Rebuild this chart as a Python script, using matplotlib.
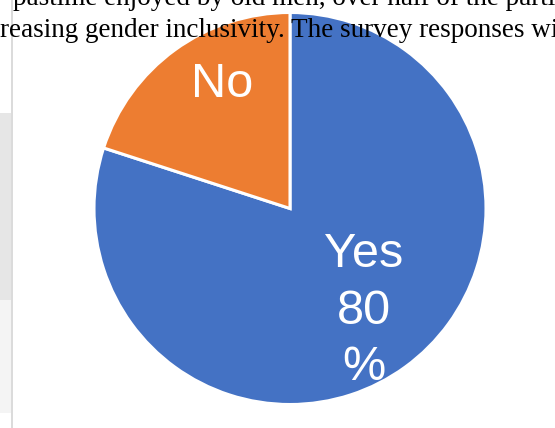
import matplotlib
matplotlib.use("Agg")
import matplotlib.pyplot as plt
from matplotlib.patches import Rectangle

# 调查结果数据
labels = ['Yes', 'No']
values = [80, 20]
colors = ['#4472C4', '#ED7D31']

# 截图中的正文残留
body_lines = ['pastime enjoyed by old men, over half of the parti',
              'reasing gender inclusivity. The survey responses wi']

W, H = 555, 428
fig = plt.figure(figsize=(W / 100, H / 100), dpi=100)
ax = fig.add_axes([0, 0, 1, 1])

# 左侧页边的灰色竖线和水印
ax.add_patch(Rectangle((0, H - 300), 11, 187, color='#e6e6e6', lw=0, zorder=0))
ax.add_patch(Rectangle((0, H - 413), 11, 113, color='#f4f4f4', lw=0, zorder=0))
ax.plot([11.5, 11.5], [0, H], color='#d4d4d4', lw=1.2, zorder=1)

ax.pie(values, colors=colors, startangle=90, counterclock=False,
       center=(290, H - 208.5), radius=196,
       wedgeprops={'edgecolor': 'white', 'linewidth': 2.2}, frame=True)
ax.set_xlim(0, W)
ax.set_ylim(0, H)
ax.set_aspect('equal')
ax.axis('off')

# 数据标签
ax.text(222, H - 84, labels[1], ha='center', va='center', color='white',
        fontsize=35, family='Liberation Sans', zorder=5)
ax.text(364, H - 311, f'{labels[0]}\n{values[0]}\n%', ha='center', va='center',
        color='white', fontsize=35, family='Liberation Sans', linespacing=1.33, zorder=5)

ax.text(13, H - 5, body_lines[0], ha='left', va='baseline', fontsize=19.5,
        family='Liberation Serif', color='black', zorder=6)
ax.text(0, H - 37, body_lines[1], ha='left', va='baseline', fontsize=19.5,
        family='Liberation Serif', color='black', zorder=6)

fig.savefig('out.png', dpi=100)
